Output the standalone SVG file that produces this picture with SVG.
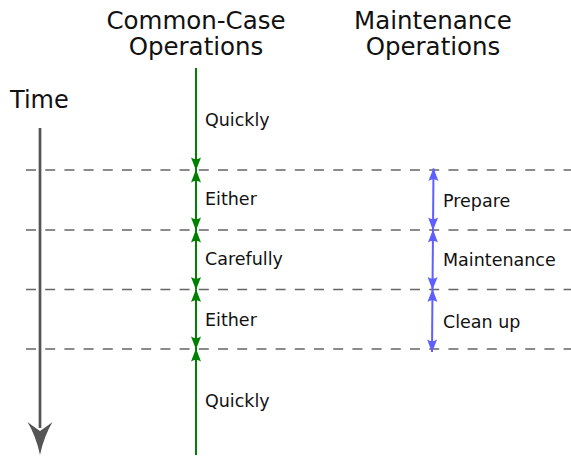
<svg xmlns="http://www.w3.org/2000/svg" width="571" height="457" viewBox="0 0 571 457">
  <style>
    text { font-family: "DejaVu Sans", "Liberation Sans", sans-serif; fill: #111; }
    .title { font-size: 24.5px; text-anchor: middle; }
    .label { font-size: 17.5px; }
    .grid { stroke: #666; stroke-width: 1.4; stroke-dasharray: 10 9.2; fill: none; }
    .green { stroke: #008000; stroke-width: 2; fill: none; }
    .blue { stroke: #5f5fff; stroke-width: 2; fill: none; }
    .g2 { marker-start: url(#ag); marker-end: url(#ag); }
    .b2 { marker-start: url(#ab); marker-end: url(#ab); }
  </style>
  <defs>
    <marker id="ag" markerUnits="userSpaceOnUse" markerWidth="16" markerHeight="12" viewBox="-13 -6 14 12" refX="0" refY="0" orient="auto-start-reverse" overflow="visible">
      <path d="M0.5,0 L-12.5,-5 Q-9,0 -12.5,5 Z" fill="#008000"/>
    </marker>
    <marker id="ab" markerUnits="userSpaceOnUse" markerWidth="16" markerHeight="12" viewBox="-13 -6 14 12" refX="0" refY="0" orient="auto-start-reverse" overflow="visible">
      <path d="M0.5,0 L-12.5,-5 Q-9,0 -12.5,5 Z" fill="#5f5fff"/>
    </marker>
  </defs>

  <g id="titles">
    <text class="title" x="196" y="28.5">Common-Case</text>
    <text class="title" x="196" y="55">Operations</text>
    <text class="title" x="433" y="28.5">Maintenance</text>
    <text class="title" x="433" y="55">Operations</text>
  </g>

  <g id="grid">
    <line class="grid" x1="26" y1="170" x2="571" y2="170"/>
    <line class="grid" x1="26" y1="230" x2="571" y2="230"/>
    <line class="grid" x1="26" y1="289.5" x2="571" y2="289.5"/>
    <line class="grid" x1="26" y1="349" x2="571" y2="349"/>
  </g>

  <g id="time">
    <text x="10" y="108" style="font-size:24px">Time</text>
    <line x1="40" y1="128" x2="40" y2="428" stroke="#555" stroke-width="2.7"/>
    <path d="M27.5,422 Q34,427 40,431 Q46,427 52.5,422 Q44,436 40,455 Q36,436 27.5,422 Z" fill="#555"/>
  </g>

  <g id="connectors">
    <line class="green" x1="196" y1="68" x2="196" y2="170" style="marker-end:url(#ag)"/>
    <line class="green g2" x1="196" y1="170" x2="196" y2="230"/>
    <line class="green g2" x1="196" y1="230" x2="196" y2="289.5"/>
    <line class="green g2" x1="196" y1="289.5" x2="196" y2="349"/>
    <line class="green" x1="196" y1="349" x2="196" y2="455" style="marker-start:url(#ag)"/>
    <line class="blue b2" x1="433.5" y1="168.5" x2="433" y2="230"/>
    <line class="blue b2" x1="433" y1="230" x2="432.5" y2="289.5"/>
    <line class="blue b2" x1="432.5" y1="289.5" x2="432" y2="352"/>
  </g>

  <g id="n-quickly1"><text class="label" x="205" y="126">Quickly</text></g>
  <g id="n-either1"><text class="label" x="205" y="205">Either</text></g>
  <g id="n-carefully"><text class="label" x="205" y="265">Carefully</text></g>
  <g id="n-either2"><text class="label" x="205" y="326">Either</text></g>
  <g id="n-quickly2"><text class="label" x="205" y="407">Quickly</text></g>
  <g id="n-prepare"><text class="label" x="443" y="207">Prepare</text></g>
  <g id="n-maintenance"><text class="label" x="443" y="266">Maintenance</text></g>
  <g id="n-cleanup"><text class="label" x="443" y="328">Clean up</text></g>
</svg>
